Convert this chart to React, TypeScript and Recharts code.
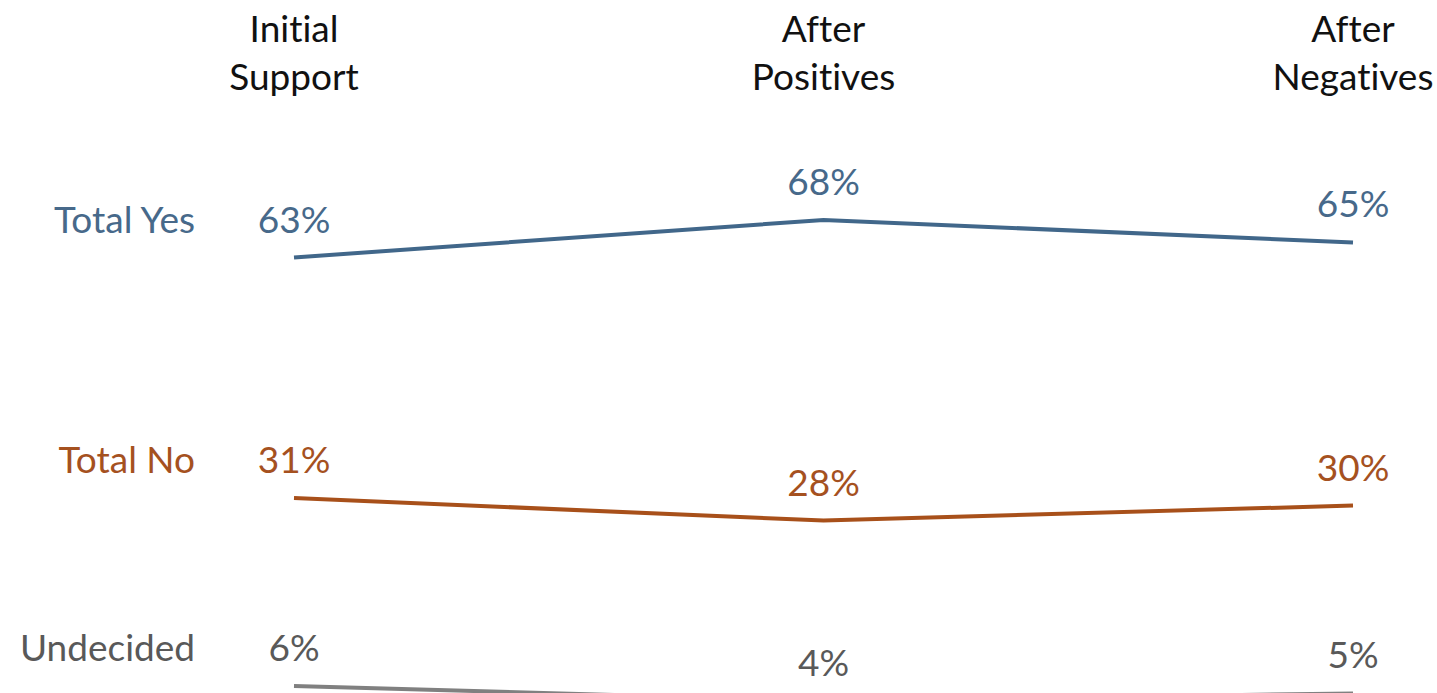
import { LineChart, Line, XAxis, YAxis, LabelList } from "recharts";

const CATEGORIES = ["Initial Support", "After Positives", "After Negatives"];
const TOTAL_YES = [63, 68, 65];
const TOTAL_NO = [31, 28, 30];
const UNDECIDED = [6, 4, 5];

const SERIES = [
  { key: "yes", name: "Total Yes", values: TOTAL_YES, line: "#41678a", text: "#47698a" },
  { key: "no", name: "Total No", values: TOTAL_NO, line: "#a8501a", text: "#a5511f" },
  { key: "und", name: "Undecided", values: UNDECIDED, line: "#808080", text: "#595959" },
];

const FONT = "Lato, 'Open Sans', sans-serif";
const FONT_SIZE = 37;
const textStyle = { fontVariantLigatures: "none" as const };

const data = CATEGORIES.map((c, i) => {
  const row: Record<string, string | number> = { cat: c };
  for (const s of SERIES) row[s.key] = s.values[i];
  return row;
});

// two-line column headers drawn above the plot
function HeaderTick(props: any) {
  const { x, payload } = props;
  const words = String(payload.value).split(" ");
  return (
    <text x={x} textAnchor="middle" fontFamily={FONT} fontSize={FONT_SIZE} fill="#111" style={textStyle}>
      {words.map((w, i) => (
        <tspan key={i} x={x} y={42 + i * 48}>
          {w}
        </tspan>
      ))}
    </text>
  );
}

function makeLabel(name: string, color: string) {
  return (props: any) => {
    const { x, y, value, index } = props;
    return (
      <g>
        <text x={x} y={y - 25} textAnchor="middle" fontFamily={FONT} fontSize={FONT_SIZE} fill={color} style={textStyle}>
          {value}%
        </text>
        {index === 0 && (
          <text x={x - 99} y={y - 25} textAnchor="end" fontFamily={FONT} fontSize={FONT_SIZE} fill={color} style={textStyle}>
            {name}
          </text>
        )}
      </g>
    );
  };
}

export default function App() {
  return (
    <div style={{ position: "fixed", top: 0, left: 0, width: 1437, height: 693, overflow: "hidden", background: "#fff" }}>
      <LineChart width={1437} height={731} data={data} margin={{ top: 16, right: 84, bottom: 0, left: 294 }}>
        <XAxis
          dataKey="cat"
          orientation="top"
          height={1}
          axisLine={false}
          tickLine={false}
          interval={0}
          tick={<HeaderTick />}
        />
        <YAxis hide domain={[0, 95]} />
        {SERIES.map((s) => (
          <Line
            key={s.key}
            dataKey={s.key}
            stroke={s.line}
            strokeWidth={4}
            dot={false}
            isAnimationActive={false}
          >
            <LabelList dataKey={s.key} content={makeLabel(s.name, s.text)} />
          </Line>
        ))}
      </LineChart>
    </div>
  );
}
